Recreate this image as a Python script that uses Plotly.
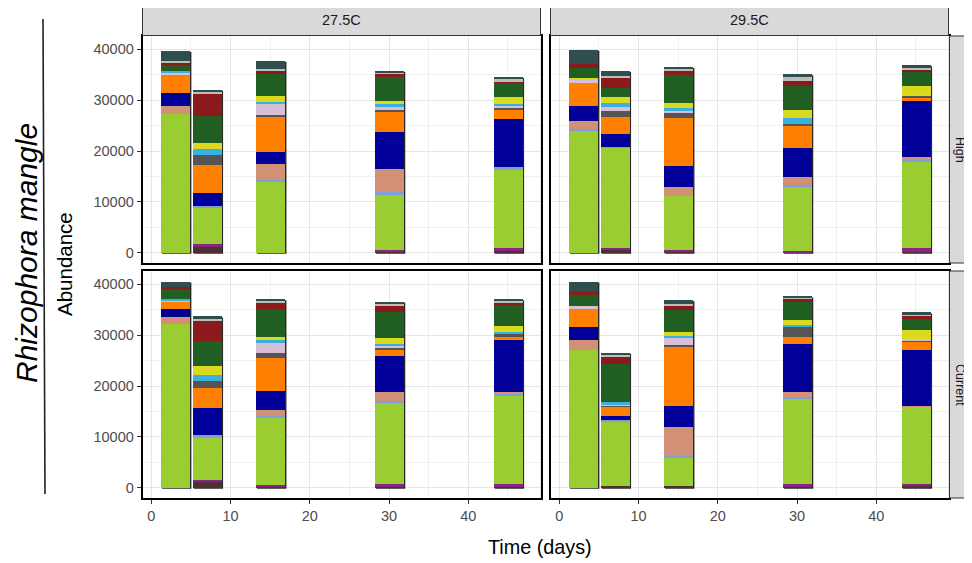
import plotly.graph_objects as go

# ---------------- data ----------------
days = [3, 7, 15, 30, 45]
bar_width = 3.7

taxa = ["Taxon 1", "Taxon 2", "Taxon 3", "Taxon 4", "Taxon 5", "Taxon 6", "Taxon 7",
        "Taxon 8", "Taxon 9", "Taxon 10", "Taxon 11", "Taxon 12", "Taxon 13", "Taxon 14", "Taxon 15"]
taxa_colors = ["#4B3131", "#8B2286", "#9ACD32", "#7F9FD8", "#D29176", "#000099", "#FF8000",
               "#555555", "#D8BFD8", "#3BB0E0", "#DADA1C", "#215E21", "#8B1A1A", "#BEBEBE", "#2F4F4F"]

temps = ["27.5C", "29.5C"]
scenarios = ["High", "Current"]

# rows = taxa (bottom to top of stack), columns = days
high_275 = [
    [0, 1311, 0, 200, 260],
    [0, 330, 0, 390, 590],
    [27280, 7280, 13835, 10750, 15480],
    [0, 260, 455, 530, 460],
    [1570, 0, 3150, 4650, 0],
    [2560, 2620, 2430, 7280, 9500],
    [3740, 5445, 6880, 3940, 1970],
    [0, 1905, 260, 320, 390],
    [350, 0, 2230, 660, 270],
    [240, 1240, 460, 520, 320],
    [0, 1250, 1180, 660, 1450],
    [1370, 5310, 4200, 4660, 2620],
    [270, 4260, 720, 780, 460],
    [260, 460, 260, 200, 390],
    [2030, 390, 1710, 200, 400],
]
high_295 = [
    [0, 590, 260, 0, 200],
    [0, 330, 200, 390, 650],
    [24060, 19730, 10690, 12720, 16990],
    [200, 200, 0, 200, 450],
    [1710, 0, 1700, 1510, 460],
    [2950, 2490, 4130, 5830, 11080],
    [4390, 3350, 9580, 4400, 530],
    [0, 1240, 910, 260, 520],
    [720, 720, 460, 0, 200],
    [0, 790, 530, 1180, 0],
    [330, 1250, 1050, 1510, 1770],
    [1970, 1700, 5370, 4850, 2750],
    [720, 2100, 920, 980, 400],
    [0, 330, 260, 860, 520],
    [2880, 920, 460, 390, 330],
]
cur_275 = [
    [0, 1240, 260, 200, 200],
    [0, 330, 330, 520, 520],
    [32180, 8240, 13140, 15890, 17400],
    [0, 460, 460, 520, 450],
    [1440, 0, 1180, 1700, 260],
    [1500, 5430, 3660, 7000, 10210],
    [1440, 3850, 6410, 1250, 520],
    [0, 1440, 980, 450, 720],
    [300, 0, 2160, 400, 0],
    [220, 1180, 390, 320, 260],
    [0, 1770, 660, 1110, 1250],
    [2160, 4840, 5490, 5110, 4310],
    [260, 3920, 1310, 1370, 330],
    [0, 520, 320, 460, 390],
    [1050, 460, 330, 320, 260],
]
cur_295 = [
    [0, 260, 260, 200, 260],
    [0, 0, 0, 450, 460],
    [27140, 12750, 5630, 16810, 15300],
    [0, 400, 260, 330, 0],
    [1830, 0, 5750, 1040, 130],
    [2550, 720, 4190, 9490, 10930],
    [3600, 1760, 11510, 1240, 1500],
    [0, 200, 460, 1960, 460],
    [720, 260, 1300, 0, 260],
    [0, 520, 460, 530, 0],
    [0, 0, 720, 910, 1700],
    [2160, 7460, 4380, 3660, 2220],
    [590, 1500, 920, 530, 460],
    [0, 330, 330, 320, 460],
    [1960, 390, 720, 130, 330],
]

# ---------------- layout helpers ----------------
OFF = 8  # page body margin in the browser
W, H = 972 - OFF, 563 - OFF
def fx(p):
    return (p - OFF) / W
def fy(p):
    return 1 - (p - OFF) / H

col_px = [(142.5, 540.5), (550.5, 948.5)]
row_px = [(36, 263), (271, 498)]

panels = [
    (high_275, 0, 0, "x", "y"),
    (high_295, 0, 1, "x2", "y2"),
    (cur_275, 1, 0, "x3", "y3"),
    (cur_295, 1, 1, "x4", "y4"),
]

fig = go.Figure()
shapes = []
for data, r, c, xa, ya in panels:
    for i, name in enumerate(taxa):
        fig.add_trace(go.Bar(
            x=days, y=data[i], width=bar_width, name=name,
            marker=dict(color=taxa_colors[i], line=dict(width=0)),
            xaxis=xa, yaxis=ya, showlegend=False,
        ))
    totals = [sum(data[i][j] for i in range(len(taxa))) for j in range(len(days))]
    for d, t in zip(days, totals):
        shapes.append(dict(type="rect", xref=xa, yref=ya, layer="between",
                           x0=d - bar_width / 2 + 0.2, x1=d + bar_width / 2 + 0.2,
                           y0=-190, y1=t - 190,
                           fillcolor="#2a2a2a", line=dict(width=0)))

yrange = [-2030, 42630]
xrange_ = [-1.12, 49.12]
tickfont = dict(family="Liberation Sans, Arial", size=14.5, color="#4D4D4D")
grid_major = "#E6E6E6"
grid_minor = "#F0F0F0"

layout = dict(
    width=W, height=H, barmode="stack", bargap=0,
    paper_bgcolor="white", plot_bgcolor="white",
    margin=dict(l=0, r=0, t=0, b=0),
    showlegend=False,
    font=dict(family="Liberation Sans, Arial", color="#1A1A1A"),
)

for data, r, c, xa, ya in panels:
    xkey = "xaxis" if xa == "x" else "xaxis" + xa[1:]
    ykey = "yaxis" if ya == "y" else "yaxis" + ya[1:]
    layout[xkey] = dict(
        domain=[fx(col_px[c][0]), fx(col_px[c][1])], anchor=ya, range=xrange_,
        tick0=0, dtick=10, showgrid=True, gridcolor=grid_major, gridwidth=1,
        minor=dict(dtick=5, showgrid=True, gridcolor=grid_minor, gridwidth=0.8),
        zeroline=False, showline=True, mirror=True, linecolor="black", linewidth=1.6,
        ticks="outside" if r == 1 else "", ticklen=4, tickcolor="#333333",
        showticklabels=(r == 1), tickfont=tickfont,
    )
    layout[ykey] = dict(
        domain=[fy(row_px[r][1]), fy(row_px[r][0])], anchor=xa, range=yrange,
        tick0=0, dtick=10000, tickformat="d", showgrid=True, gridcolor=grid_major, gridwidth=1,
        minor=dict(dtick=5000, showgrid=True, gridcolor=grid_minor, gridwidth=0.8),
        zeroline=False, showline=True, mirror=True, linecolor="black", linewidth=1.6,
        ticks="outside" if c == 0 else "", ticklen=4, tickcolor="#333333",
        showticklabels=(c == 0), tickfont=tickfont,
    )
    # thicker right / bottom panel edge (shadow look)
    x0p, x1p = col_px[c]
    y0p, y1p = row_px[r]
    shapes.append(dict(type="line", xref="paper", yref="paper",
                       x0=fx(x1p + 1), x1=fx(x1p + 1), y0=fy(y1p + 1), y1=fy(y0p + 1),
                       line=dict(color="black", width=1.2)))
    shapes.append(dict(type="line", xref="paper", yref="paper",
                       x0=fx(x0p + 1), x1=fx(x1p + 1), y0=fy(y1p + 1), y1=fy(y1p + 1),
                       line=dict(color="black", width=1.2)))

annotations = []
def note(text, xp, yp, size, angle=0, color="#1A1A1A"):
    annotations.append(dict(text=text, xref="paper", yref="paper", x=fx(xp), y=fy(yp),
                            xanchor="center", yanchor="middle", textangle=angle,
                            showarrow=False, font=dict(size=size, color=color)))

# top strips
for c, label in enumerate(temps):
    shapes.append(dict(type="rect", xref="paper", yref="paper",
                       x0=fx(col_px[c][0]), x1=fx(col_px[c][1]), y0=fy(35.5), y1=fy(5),
                       fillcolor="#D9D9D9", line=dict(color="#333333", width=1)))
    note(label, (col_px[c][0] + col_px[c][1]) / 2, 20.5, 14.5)
# right strips
for r, label in enumerate(scenarios):
    shapes.append(dict(type="rect", xref="paper", yref="paper",
                       x0=fx(949.5), x1=fx(972.5), y0=fy(row_px[r][1]), y1=fy(row_px[r][0]),
                       fillcolor="#D9D9D9", line=dict(color="#333333", width=1)))
    note(label, 960.5, (row_px[r][0] + row_px[r][1]) / 2, 12.5, angle=90)

# axis titles
note("Time (days)", 540, 547, 19.8, color="black")
note("Abundance", 65, 264, 20.5, angle=-90, color="black")
note("<i>Rhizophora mangle</i>", 27, 253, 30, angle=-90, color="black")
shapes.append(dict(type="line", xref="paper", yref="paper",
                   x0=fx(43), x1=fx(45), y0=fy(19), y1=fy(494),
                   line=dict(color="#222222", width=1.6)))

layout["shapes"] = shapes
layout["annotations"] = annotations
fig.update_layout(**layout)
fig.write_html("out.html")
